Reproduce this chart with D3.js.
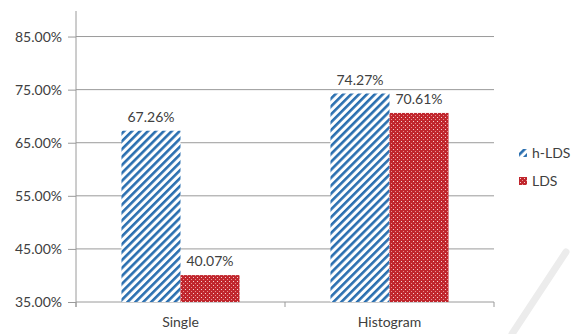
<!DOCTYPE html>
<html>
<head>
<meta charset="utf-8">
<script src="https://cdn.jsdelivr.net/npm/d3@7"></script>
<style>
  body { margin: 0; background: #fff; }
  svg text { font-family: Lato, "Open Sans", sans-serif; fill: #404040; }
</style>
</head>
<body>
<svg id="chart"></svg>
<script>
// chart data
var categories = ["Single", "Histogram"];
var seriesNames = ["h-LDS", "LDS"];
var hLDS = [67.26, 74.27];
var LDS = [40.07, 70.61];
var yTicks = [35, 45, 55, 65, 75, 85];

var width = 571, height = 334;
var margin = {left: 76, right: 77, top: 10, bottom: 32};
var plotRight = width - margin.right;
var plotBottom = height - margin.bottom;
var fontSize = "14px";

var svg = d3.select("#chart").attr("width", width).attr("height", height);

// patterns
var defs = svg.append("defs");
var stripe = defs.append("pattern")
    .attr("id", "stripes")
    .attr("patternUnits", "userSpaceOnUse")
    .attr("width", 5.6).attr("height", 5.6)
    .attr("patternTransform", "rotate(45)");
stripe.append("rect").attr("width", 5.6).attr("height", 5.6).attr("fill", "#fff");
stripe.append("rect").attr("width", 2.6).attr("height", 5.6).attr("fill", "#2a6fb0");

var dots = defs.append("pattern")
    .attr("id", "dots")
    .attr("patternUnits", "userSpaceOnUse")
    .attr("width", 4).attr("height", 4);
dots.append("rect").attr("width", 4).attr("height", 4).attr("fill", "#c0262d");
dots.append("rect").attr("x", 1).attr("y", 1).attr("width", 1).attr("height", 1).attr("fill", "#f4d0d0");
dots.append("rect").attr("x", 3).attr("y", 3).attr("width", 1).attr("height", 1).attr("fill", "#e89090");

var fills = ["url(#stripes)", "url(#dots)"];

var y = d3.scaleLinear().domain([35, 90]).range([plotBottom, margin.top]);
var x0 = d3.scaleBand().domain(categories).range([margin.left, plotRight]);
var x1 = d3.scaleBand().domain(seriesNames).range([0, x0.bandwidth()]).paddingOuter(0.77);

// gridlines
svg.append("g").selectAll("line")
    .data(yTicks.slice(1))
    .enter().append("line")
    .attr("x1", margin.left).attr("x2", plotRight)
    .attr("y1", function(d) { return y(d); })
    .attr("y2", function(d) { return y(d); })
    .attr("stroke", "#9a9a9a").attr("stroke-width", 1);

// y axis
var yAxis = svg.append("g")
    .attr("transform", "translate(" + margin.left + ",0)")
    .call(d3.axisLeft(y).tickValues(yTicks).tickSize(8).tickPadding(6)
        .tickFormat(function(d) { return d.toFixed(2) + "%"; }));
yAxis.select(".domain").attr("stroke", "#9a9a9a").attr("d", "M0," + (margin.top + 1) + "V" + (plotBottom + 5));
yAxis.selectAll(".tick line").attr("stroke", "#9a9a9a");
yAxis.selectAll("text").style("font-size", fontSize);

// x axis
var xAxis = svg.append("g")
    .attr("transform", "translate(0," + plotBottom + ")")
    .call(d3.axisBottom(x0).tickSize(0).tickPadding(15));
xAxis.select(".domain").attr("stroke", "#9a9a9a").attr("d", "M" + margin.left + ",0H" + plotRight);
xAxis.selectAll("text").style("font-size", fontSize);
svg.append("g").selectAll("line")
    .data([0, 1, 2])
    .enter().append("line")
    .attr("x1", function(d) { return margin.left + d * x0.step(); })
    .attr("x2", function(d) { return margin.left + d * x0.step(); })
    .attr("y1", plotBottom).attr("y2", plotBottom + 5)
    .attr("stroke", "#9a9a9a");

// bars
var seriesData = [hLDS, LDS];
seriesNames.forEach(function(name, si) {
  var g = svg.append("g");
  g.selectAll("rect")
      .data(seriesData[si])
      .enter().append("rect")
      .attr("x", function(d, i) { return x0(categories[i]) + x1(name); })
      .attr("y", function(d) { return y(d); })
      .attr("width", x1.bandwidth())
      .attr("height", function(d) { return y(35) - y(d); })
      .attr("fill", fills[si]);
  g.selectAll("text")
      .data(seriesData[si])
      .enter().append("text")
      .attr("x", function(d, i) { return x0(categories[i]) + x1(name) + x1.bandwidth() / 2; })
      .attr("y", function(d) { return y(d) - 9; })
      .attr("text-anchor", "middle")
      .style("font-size", fontSize)
      .text(function(d) { return d.toFixed(2) + "%"; });
});

// legend
var legend = svg.append("g").selectAll("g")
    .data(seriesNames)
    .enter().append("g")
    .attr("transform", function(d, i) { return "translate(519," + (153 + i * 28) + ")"; });
legend.append("rect")
    .attr("x", 0).attr("y", -4).attr("width", 8).attr("height", 8)
    .attr("fill", function(d, i) { return fills[i]; });
legend.append("text")
    .attr("x", 13).attr("y", 5)
    .style("font-size", fontSize)
    .text(function(d) { return d; });

// faint watermark stroke
svg.append("line")
    .attr("x1", 566).attr("y1", 252).attr("x2", 512).attr("y2", 334)
    .attr("stroke", "#ececec").attr("stroke-width", 7).attr("stroke-linecap", "round");
</script>
</body>
</html>
